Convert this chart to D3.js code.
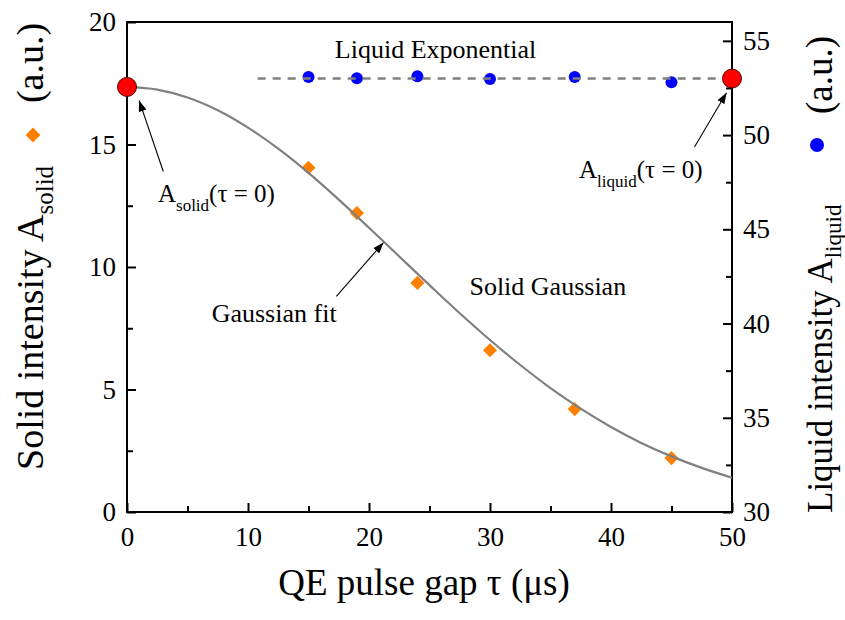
<!DOCTYPE html>
<html><head><meta charset="utf-8">
<script src="https://cdn.jsdelivr.net/npm/d3@7"></script>
<style>body{margin:0;background:#fff}svg{display:block}text{font-family:"Liberation Serif","Times New Roman",serif;fill:#000}</style>
</head><body>
<svg id="c" width="845" height="620"></svg>
<script>
// ---- data ----
const solidTau = [15, 19, 24, 30, 37, 45];
const solidA = [14.05, 12.2, 9.35, 6.6, 4.2, 2.2];
const liquidTau = [15, 19, 24, 30, 37, 45];
const liquidA = [53.08, 53.02, 53.12, 52.98, 53.08, 52.8];
const fitTau = [0, 2.5, 5, 7.5, 10, 12.5, 15, 17.5, 20, 22.5, 25, 27.5, 30, 32.5, 35, 37.5, 40, 42.5, 45, 47.5, 50];
const fitA = [17.35, 17.24, 16.92, 16.40, 15.69, 14.83, 13.84, 12.75, 11.60, 10.43, 9.26, 8.11, 7.02, 6.00, 5.06, 4.22, 3.47, 2.82, 2.27, 1.80, 1.40];
const liquidFitRange = [10.8, 50];
const liquidFitValue = 53.0;
const solidZero = {tau: 0, A: 17.35};
const liquidZero = {tau: 50, A: 53.0};
const xTicks = [0, 10, 20, 30, 40, 50];
const xMinor = [5, 15, 25, 35, 45];
const yLTicks = [0, 5, 10, 15, 20];
const yLMinor = [2.5, 7.5, 12.5, 17.5];
const yRTicks = [30, 35, 40, 45, 50, 55];
const yRMinor = [32.5, 37.5, 42.5, 47.5, 52.5];

const FONT = '"Liberation Serif","Times New Roman",serif';

// ---- scales ----
const svg = d3.select("#c");
const x = d3.scaleLinear().domain([0, 50]).range([127, 732]);
const yL = d3.scaleLinear().domain([0, 20]).range([512, 22]);
const yR = d3.scaleLinear().domain([30, 56]).range([512, 22]);

const defs = svg.append("defs");
defs.append("marker").attr("id", "ah").attr("markerUnits", "userSpaceOnUse")
  .attr("markerWidth", 11).attr("markerHeight", 8).attr("refX", 11).attr("refY", 4)
  .attr("orient", "auto").append("path").attr("d", "M0,0 L11,4 L0,8 Z").attr("fill", "#000");

// ---- axes ----
function styleAxis(g, size) {
  g.attr("font-family", null).attr("font-size", null);
  g.select(".domain").remove();
  g.selectAll(".tick line").attr("stroke", "#000").attr("stroke-width", 2);
  g.selectAll(".tick text").style("font-size", size + "px").style("font-family", FONT).attr("fill", "#000");
}
const gxb = svg.append("g").attr("transform", "translate(0,512)")
  .call(d3.axisBottom(x).tickValues(xTicks).tickSize(-9).tickPadding(15).tickFormat(d3.format("d")));
styleAxis(gxb, 27);
const gxbm = svg.append("g").attr("transform", "translate(0,512)")
  .call(d3.axisBottom(x).tickValues(xMinor).tickSize(-6).tickFormat(""));
styleAxis(gxbm, 27);
const gyl = svg.append("g").attr("transform", "translate(127,0)")
  .call(d3.axisLeft(yL).tickValues(yLTicks).tickSize(-9).tickPadding(11).tickFormat(d3.format("d")));
styleAxis(gyl, 27);
const gylm = svg.append("g").attr("transform", "translate(127,0)")
  .call(d3.axisLeft(yL).tickValues(yLMinor).tickSize(-6).tickFormat(""));
styleAxis(gylm, 27);
const gyr = svg.append("g").attr("transform", "translate(732,0)")
  .call(d3.axisRight(yR).tickValues(yRTicks).tickSize(-9).tickPadding(11).tickFormat(d3.format("d")));
styleAxis(gyr, 27);
const gyrm = svg.append("g").attr("transform", "translate(732,0)")
  .call(d3.axisRight(yR).tickValues(yRMinor).tickSize(-6).tickFormat(""));
styleAxis(gyrm, 27);

// frame
svg.append("rect").attr("x", x(0)).attr("y", yL(20)).attr("width", x(50) - x(0)).attr("height", yL(0) - yL(20))
  .attr("fill", "none").attr("stroke", "#000").attr("stroke-width", 2);

// ---- marks ----
const diamond = d3.symbol().type(d3.symbolSquare).size(100);
svg.append("g").selectAll("path").data(solidTau).join("path")
  .attr("d", diamond).attr("fill", "#ff8000")
  .attr("transform", (d, i) => `translate(${x(d)},${yL(solidA[i])}) rotate(45)`);

svg.append("g").selectAll("circle").data(liquidTau).join("circle")
  .attr("cx", d => x(d)).attr("cy", (d, i) => yR(liquidA[i])).attr("r", 6).attr("fill", "#0000ff");

const fitLine = d3.line().x(d => x(d)).y((d, i) => yL(fitA[i])).curve(d3.curveCatmullRom);
svg.append("path").datum(fitTau).attr("d", fitLine).attr("fill", "none")
  .attr("stroke", "#808080").attr("stroke-width", 2.2);

svg.append("line").attr("x1", x(liquidFitRange[0])).attr("x2", x(liquidFitRange[1]))
  .attr("y1", yR(liquidFitValue)).attr("y2", yR(liquidFitValue))
  .attr("stroke", "#808080").attr("stroke-width", 2.5).attr("stroke-dasharray", "8,7");

svg.append("circle").attr("cx", x(solidZero.tau)).attr("cy", yL(solidZero.A)).attr("r", 9.5)
  .attr("fill", "#ff0000").attr("stroke", "#500").attr("stroke-width", 1);
svg.append("circle").attr("cx", x(liquidZero.tau)).attr("cy", yR(liquidZero.A)).attr("r", 9.5)
  .attr("fill", "#ff0000").attr("stroke", "#500").attr("stroke-width", 1);

// ---- annotations ----
function arrow(x1, y1, x2, y2) {
  svg.append("line").attr("x1", x1).attr("y1", y1).attr("x2", x2).attr("y2", y2)
    .attr("stroke", "#000").attr("stroke-width", 1.1).attr("marker-end", "url(#ah)");
}
arrow(x(3.0), yL(13.9), x(1.0), yL(16.8));
arrow(x(46.9), yR(49.37), x(49.55), yR(52.25));
arrow(x(17.3), yL(8.8), x(21.2), yL(11.0));

svg.append("text").attr("x", x(25.5)).attr("y", yL(18.53)).attr("text-anchor", "middle")
  .style("font-size", "26px").text("Liquid Exponential");
svg.append("text").attr("x", x(28.3)).attr("y", yL(8.86)).style("font-size", "26px").text("Solid Gaussian");
svg.append("text").attr("x", x(7.0)).attr("y", yL(7.76)).style("font-size", "26px").text("Gaussian fit");

function subLabel(px, py, main, sub, rest) {
  const t = svg.append("text").attr("x", px).attr("y", py).style("font-size", "25px");
  t.append("tspan").text(main);
  t.append("tspan").attr("dy", 9).style("font-size", "17px").text(sub);
  t.append("tspan").attr("dy", -9).text(rest);
}
subLabel(x(2.56), yL(12.65), "A", "solid", "(\u03c4 = 0)");
subLabel(x(37.36), yL(13.63), "A", "liquid", "(\u03c4 = 0)");

// ---- axis titles ----
svg.append("text").attr("x", 424).attr("y", 595).attr("text-anchor", "middle")
  .style("font-size", "37px").text("QE pulse gap \u03c4 (\u03bcs)");

const lt = svg.append("g").attr("transform", "translate(43,0) rotate(-90)");
const ltt = lt.append("text").attr("x", -470).attr("y", 0).style("font-size", "38px");
ltt.append("tspan").text("Solid intensity A");
ltt.append("tspan").attr("dy", 10).style("font-size", "25px").text("solid");
lt.append("text").attr("x", -63).attr("y", 0).attr("text-anchor", "middle").style("font-size", "38px").text("(a.u.)");
svg.append("path").attr("d", d3.symbol().type(d3.symbolSquare).size(110))
  .attr("fill", "#ff8000").attr("transform", "translate(33,135) rotate(45)");

const rt = svg.append("g").attr("transform", "translate(832,0) rotate(-90)");
const rtt = rt.append("text").attr("x", -513).attr("y", 0).style("font-size", "35px");
rtt.append("tspan").text("Liquid intensity A");
rtt.append("tspan").attr("dy", 9).style("font-size", "23px").text("liquid");
rt.append("text").attr("x", -75).attr("y", 0).attr("text-anchor", "middle").style("font-size", "37px").text("(a.u.)");
svg.append("circle").attr("cx", 817).attr("cy", 145).attr("r", 7).attr("fill", "#0000ff");
</script>
</body></html>
